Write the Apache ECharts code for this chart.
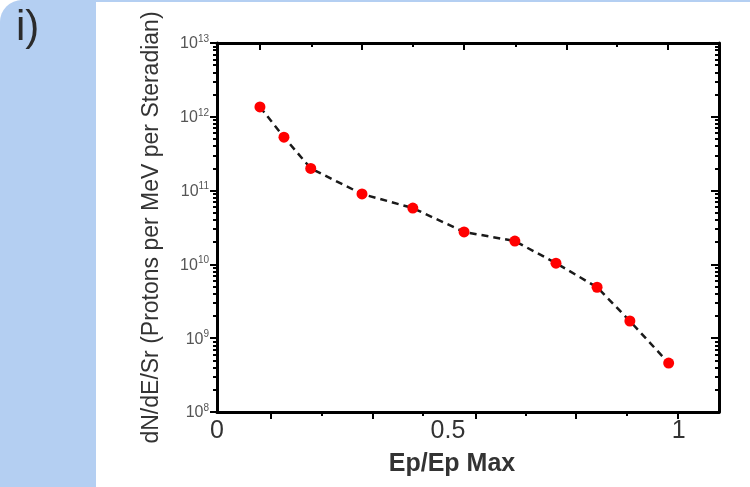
<!DOCTYPE html>
<html>
<head>
<meta charset="utf-8">
<script src="https://cdn.jsdelivr.net/npm/echarts@6/dist/echarts.min.js"></script>
<style>
  html, body { margin: 0; padding: 0; background: #ffffff; }
  #chart { width: 750px; height: 487px; }
</style>
</head>
<body>
<div id="chart"></div>
<script>
// ---- data ----
const epRatio = [0.093, 0.145, 0.203, 0.314, 0.424, 0.535, 0.645, 0.734, 0.823, 0.894, 0.978];
const dNdE    = [1.36e12, 5.3e11, 2.0e11, 9.0e10, 5.8e10, 2.75e10, 2.07e10, 1.04e10, 4.9e9, 1.71e9, 4.6e8];

// ---- axis ticks / labels ----
const xLabelValues      = [0, 0.5, 1];
const bottomMajorTicks  = [0.117, 0.338, 0.561, 0.777, 0.998];
const bottomMinorTicks  = [0.227, 0.446, 0.669, 0.887];
const topMajorTicks     = [0.093, 0.314, 0.535, 0.758, 0.976];
const topMinorTicks     = [0.206, 0.424, 0.647, 0.866];
const yDecadeExponents  = [8, 9, 10, 11, 12, 13];
const yMinorMultipliers = [2, 3, 4, 5, 6, 7, 8, 9];
const xTitle = 'Ep/Ep Max';
const yTitle = 'dN/dE/Sr (Protons per MeV per Steradian)';
const panelLabel = 'i)';

const yMinorExponents = [];
yDecadeExponents.slice(0, -1).forEach(d => yMinorMultipliers.forEach(k => yMinorExponents.push(d + Math.log10(k))));

const FONT = '"Liberation Sans", Arial, sans-serif';
const X_MIN = 0, X_MAX = 1.087;
const Y_MIN = 1e8, Y_MAX = 1e13;
const line3 = { show: true, onZero: false, lineStyle: { color: '#000', width: 3 } };
const noLine = { show: false, onZero: false };

function xAx(position, ticks, len, inside, opts) {
  return Object.assign({
    type: 'value', position: position, min: X_MIN, max: X_MAX,
    axisLine: noLine, splitLine: { show: false },
    axisTick: { show: true, customValues: ticks, length: len, inside: inside, lineStyle: { color: '#000', width: 2 } },
    axisLabel: { show: false }
  }, opts || {});
}
function yAx(position, ticks, len, inside, opts) {
  return Object.assign({
    type: 'value', position: position, min: 8, max: 13,
    axisLine: noLine, splitLine: { show: false },
    axisTick: { show: true, customValues: ticks, length: len, inside: inside, lineStyle: { color: '#000', width: 2 } },
    axisLabel: { show: false }
  }, opts || {});
}

const chart = echarts.init(document.getElementById('chart'), null, { renderer: 'canvas' });
chart.setOption({
  animation: false,
  backgroundColor: '#ffffff',
  graphic: [
    { type: 'rect', z: -10, silent: true, shape: { x: 0, y: 0, width: 750, height: 487, r: [22, 0, 0, 0] }, style: { fill: '#b4cff2' } },
    { type: 'rect', z: -9, silent: true, shape: { x: 96, y: 2, width: 654, height: 485 }, style: { fill: '#ffffff' } },
    { type: 'text', z: 5, left: 16, top: 7, style: { text: panelLabel, font: '42px ' + FONT, fill: '#2b2b2b' } }
  ],
  grid: { left: 217, right: 31, top: 43, bottom: 75, containLabel: false },
  xAxis: [
    xAx('bottom', bottomMajorTicks, 7, false, {
      axisLine: line3,
      axisLabel: { show: true, customValues: xLabelValues, margin: 7, fontSize: 25, color: '#333', fontFamily: FONT,
                   formatter: v => String(v) },
      name: xTitle, nameLocation: 'middle', nameGap: 40,
      nameTextStyle: { fontSize: 25, fontWeight: 'bold', color: '#333', fontFamily: FONT, padding: [0, 32, 0, 0] }
    }),
    xAx('bottom', bottomMinorTicks, 4, false),
    xAx('top', topMajorTicks, 7, true, { axisLine: line3 }),
    xAx('top', topMinorTicks, 4, true)
  ],
  yAxis: [
    {
      type: 'log', logBase: 10, position: 'left', min: Y_MIN, max: Y_MAX,
      axisLine: line3, splitLine: { show: false },
      axisTick: { show: true, length: 7, inside: false, lineStyle: { color: '#000', width: 2 } },
      axisLabel: {
        show: true, margin: 8, color: '#555', fontFamily: FONT,
        formatter: v => '{b|10}{s|' + Math.round(Math.log10(v)) + '}',
        rich: {
          b: { fontSize: 16, color: '#555', fontFamily: FONT, verticalAlign: 'bottom' },
          s: { fontSize: 10, color: '#555', fontFamily: FONT, verticalAlign: 'bottom', padding: [0, 0, 8, 0] }
        }
      },
      name: yTitle, nameLocation: 'middle', nameRotate: 90, nameGap: 54,
      nameTextStyle: { fontSize: 23, color: '#333', fontFamily: FONT }
    },
    yAx('left', yMinorExponents, 4, false),
    yAx('right', yDecadeExponents, 8, true, { axisLine: line3 }),
    yAx('right', yMinorExponents, 4, true)
  ],
  series: [{
    type: 'line', xAxisIndex: 0, yAxisIndex: 0,
    data: epRatio.map((x, i) => [x, dNdE[i]]),
    symbol: 'circle', symbolSize: 11,
    itemStyle: { color: '#ff0000' },
    lineStyle: { color: '#1a1a1a', width: 2.5, type: [7, 5] },
    z: 3
  }]
});
</script>
</body>
</html>
